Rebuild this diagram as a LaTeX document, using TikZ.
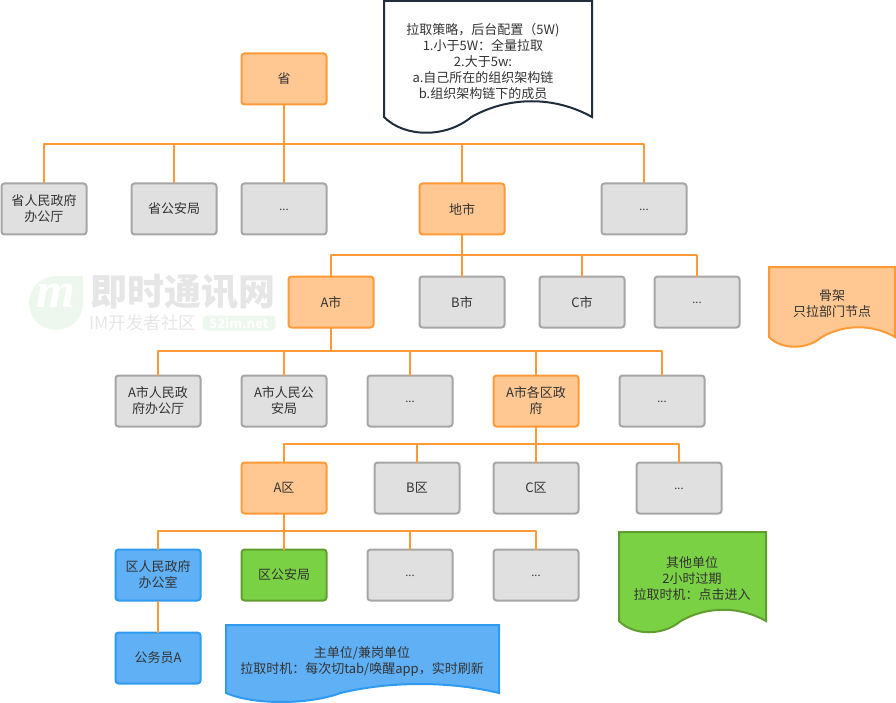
\documentclass[tikz,border=0pt]{standalone}
\usepackage{fontspec}
\setmainfont{Noto Sans CJK SC}
\newfontfamily\markfont{Liberation Serif}
\usepackage{xcolor}
\usetikzlibrary{positioning}
\definecolor{ink}{HTML}{333333}
\definecolor{linkorange}{HTML}{FF9A36}
\definecolor{softorange}{HTML}{FFC892}
\definecolor{softgray}{HTML}{E0E0E0}
\definecolor{edgegray}{HTML}{A6A6A6}
\definecolor{softblue}{HTML}{60B0F5}
\definecolor{edgeblue}{HTML}{2E9BF0}
\definecolor{softgreen}{HTML}{7BD144}
\definecolor{edgegreen}{HTML}{5F9E2F}
\definecolor{navy}{HTML}{1F2D3D}
\definecolor{markgreen}{HTML}{EDF7ED}
\definecolor{markgray}{HTML}{E6E6E6}
\tikzset{
    every picture/.style={line join=round},
    unitnode/.style={rounded corners=3pt,line width=2pt,minimum width=85pt,
      minimum height=51pt,inner sep=1pt,outer sep=0pt,text=ink,align=center,
      font=\fontsize{13}{16}\selectfont,draw=edgegray,fill=softgray,
      execute at begin node={\vspace*{2pt}}},
    skeleton/.style={draw=linkorange,fill=softorange},
    mainunit/.style={draw=edgeblue,fill=softblue},
    otherunit/.style={draw=edgegreen,fill=softgreen},
    link/.style={draw=linkorange,line width=2pt},
    doctext/.style={text=ink,align=center,inner sep=0pt,
      font=\fontsize{13}{16}\selectfont},
    docshape/.style={line width=2pt,line join=miter}
}
% x0 y0 x1 y1(edge bottom) swing
\newcommand{\wavedoc}[6]{%
  \pgfmathsetmacro{\wavea}{#2+0.10*(#4-#2)}
  \pgfmathsetmacro{\waveb}{#2+0.30*(#4-#2)}
  \pgfmathsetmacro{\wavec}{#2+0.42*(#4-#2)}
  \pgfmathsetmacro{\waved}{#2+0.60*(#4-#2)}
  \pgfmathsetmacro{\wavee}{#2+0.82*(#4-#2)}
  \draw[docshape,#1] (#2,#3) -- (#4,#3) -- (#4,#5)
    .. controls (\wavee,#5-#6) and (\waved,#5-#6) .. (\wavec,#5)
    .. controls (\waveb,#5+#6) and (\wavea,#5+#6) .. (#2,#5) -- cycle;
}
\newcommand{\moredots}{\raisebox{-3pt}{\fontsize{11}{11}\selectfont ...}}

\begin{document}
\begin{tikzpicture}[x=1pt,y=-1pt]
  \useasboundingbox (0,0) rectangle (896,703);
  % watermark
  \fill[markgreen] (83,276) -- (83,303) arc[start angle=0,end angle=270,radius=27] -- cycle;
  \node[text=white,font=\fontsize{50}{50}\markfont\bfseries\itshape,inner sep=0pt] (markm) at (56,296) {m};
  \node[text=markgray,font=\fontsize{37}{37}\selectfont\bfseries,inner sep=0pt] (markname) at (183,292) {即时通讯网};
  \node[text=markgray,font=\fontsize{17.5}{17.5}\selectfont,inner sep=0pt] (markclub) at (143,323) {IM开发者社区};
  \node[fill=markgreen,text=white,rounded corners=4pt,minimum width=73pt,minimum height=15pt,
    inner sep=0pt,font=\fontsize{13}{13}\selectfont\bfseries] (marksite) at (239,323) {52im.net};
  % row 1
  \node[unitnode,skeleton] (sheng) at (284,79) {省};
  % row 2
  \node[unitnode] (office) at (44,209) {省人民政府\\办公厅};
  \node[unitnode] (police) at (174,209) {省公安局};
  \node[unitnode] (rowb) at (284,209) {\moredots};
  \node[unitnode,skeleton] (dishi) at (462,209) {地市};
  \node[unitnode] (rowc) at (644,209) {\moredots};
  % row 3
  \node[unitnode,skeleton] (citya) at (331,302) {A市};
  \node[unitnode] (cityb) at (462,302) {B市};
  \node[unitnode] (cityc) at (582,302) {C市};
  \node[unitnode] (cityd) at (697,302) {\moredots};
  % row 4
  \node[unitnode] (aoffice) at (158,401) {A市人民政\\府办公厅};
  \node[unitnode] (apolice) at (284,401) {A市人民公\\安局};
  \node[unitnode] (aother) at (410,401) {\moredots};
  \node[unitnode,skeleton] (adist) at (536,401) {A市各区政\\府};
  \node[unitnode] (amore) at (662,401) {\moredots};
  % row 5
  \node[unitnode,skeleton] (qua) at (284,488) {A区};
  \node[unitnode] (qub) at (417,488) {B区};
  \node[unitnode] (quc) at (536,488) {C区};
  \node[unitnode] (qud) at (679,488) {\moredots};
  % row 6
  \node[unitnode,mainunit] (quoffice) at (158,575) {区人民政府\\办公室};
  \node[unitnode,otherunit] (qupolice) at (284,575) {区公安局};
  \node[unitnode] (quother) at (410,575) {\moredots};
  \node[unitnode] (qumore) at (536,575) {\moredots};
  \node[unitnode,mainunit] (staff) at (158,658) {公务员A};
  % links
  \foreach \kid in {office,police,rowb,dishi,rowc}
    \draw[link] (sheng.south) -- (284,144) -| (\kid.north);
  \foreach \kid in {citya,cityb,cityc,cityd}
    \draw[link] (dishi.south) -- (462,255) -| (\kid.north);
  \foreach \kid in {aoffice,apolice,aother,adist,amore}
    \draw[link] (citya.south) -- (331,351) -| (\kid.north);
  \foreach \kid in {qua,qub,quc,qud}
    \draw[link] (adist.south) -- (536,444) -| (\kid.north);
  \foreach \kid in {quoffice,qupolice,quother,qumore}
    \draw[link] (qua.south) -- (284,531) -| (\kid.north);
  \draw[link] (quoffice.south) -- (staff.north);
  % notes
  \wavedoc{draw=navy,fill=white}{384}{1}{592}{117}{21}
  \node[doctext] (strategy) at (483,62) {拉取策略，后台配置（5W)\\1.小于5W：全量拉取\\2.大于5w:\\a.自己所在的组织架构链\\b.组织架构链下的成员};
  \wavedoc{draw=linkorange,fill=softorange}{769}{267}{895}{337}{13}
  \node[doctext] (bonenote) at (832,304) {骨架\\只拉部门节点};
  \wavedoc{draw=edgegreen,fill=softgreen}{619}{532}{766}{621}{15}
  \node[doctext] (othernote) at (692,579) {其他单位\\2小时过期\\拉取时机：点击进入};
  \wavedoc{draw=edgeblue,fill=softblue}{226}{625}{499}{693}{12}
  \node[doctext] (mainnote) at (362,661) {主单位/兼岗单位\\拉取时机：每次切tab/唤醒app，实时刷新};
\end{tikzpicture}
\end{document}
